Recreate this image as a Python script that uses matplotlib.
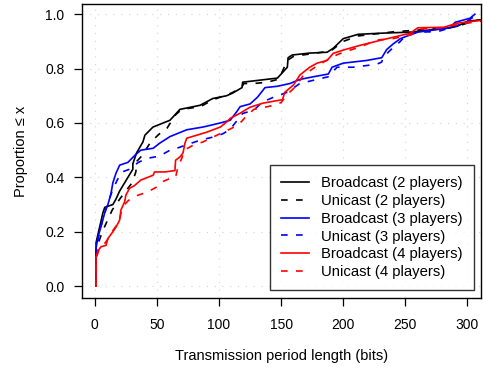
import matplotlib
matplotlib.use("Agg")
import matplotlib.pyplot as plt

plt.rcParams["font.family"] = ["Liberation Sans", "DejaVu Sans"]

# Broadcast / unicast, 2 players
bc2_x = [1, 1, 2.5, 4, 6.5, 8, 14.5, 17, 20, 24, 26.6, 30.6, 30.6, 33.6, 38.7, 40.3, 46.8, 60.5, 68.5, 84.7,
         95, 106, 111, 118.5, 119, 147, 149, 155, 155.6, 159, 173, 187, 192, 200, 212, 230, 254, 286, 292,
         300, 312]
bc2_y = [0, 0.16, 0.19, 0.22, 0.27, 0.29, 0.30, 0.32, 0.35, 0.38, 0.40, 0.43, 0.45, 0.49, 0.53, 0.555, 0.585,
         0.61, 0.65, 0.665, 0.69, 0.70, 0.71, 0.73, 0.75, 0.765, 0.775, 0.805, 0.84, 0.85, 0.857, 0.86, 0.875,
         0.91, 0.926, 0.93, 0.934, 0.95, 0.956, 0.974, 0.98]
uc2_x = [1, 1, 3, 6, 10, 14, 20, 25, 30, 33, 34, 38, 45, 52, 58, 65, 70, 85, 95, 110, 118, 120, 130, 139,
         147, 150, 155, 160, 175, 190, 200, 212, 240, 285, 295, 305, 312]
uc2_y = [0, 0.12, 0.16, 0.20, 0.24, 0.28, 0.32, 0.35, 0.38, 0.42, 0.46, 0.48, 0.53, 0.56, 0.58, 0.63, 0.65,
         0.66, 0.685, 0.71, 0.73, 0.745, 0.746, 0.75, 0.76, 0.78, 0.83, 0.845, 0.855, 0.865, 0.90, 0.92, 0.935,
         0.95, 0.96, 0.975, 0.98]

# 3 players
bc3_x = [1, 1, 2.5, 5, 8, 10.5, 13, 14.5, 17, 20, 26.6, 32, 37, 47, 52, 60.5, 74, 87, 101, 109, 114, 117,
         125, 131, 137, 147, 157, 165, 176, 188, 191, 200, 219, 231, 235, 240, 246, 251.6, 260, 286, 290,
         302, 306]
bc3_y = [0, 0.14, 0.18, 0.22, 0.27, 0.30, 0.34, 0.38, 0.415, 0.445, 0.455, 0.48, 0.50, 0.507, 0.525, 0.55,
         0.575, 0.585, 0.60, 0.61, 0.64, 0.66, 0.67, 0.695, 0.73, 0.735, 0.745, 0.76, 0.77, 0.78, 0.805, 0.82,
         0.83, 0.84, 0.87, 0.89, 0.91, 0.92, 0.934, 0.95, 0.97, 0.985, 1.0]
uc3_x = [1, 1, 3, 6, 10, 14, 18, 22, 28, 35, 42, 52, 60.5, 66, 74, 85, 95, 103, 109, 119, 128, 135, 144,
         155, 165, 176, 188, 195, 208, 227, 231, 232, 238, 246, 251, 262, 276, 290, 300, 305]
uc3_y = [0, 0.12, 0.18, 0.24, 0.30, 0.35, 0.39, 0.42, 0.43, 0.455, 0.47, 0.478, 0.50, 0.507, 0.52, 0.537,
         0.548, 0.56, 0.577, 0.635, 0.647, 0.677, 0.695, 0.713, 0.745, 0.757, 0.77, 0.805, 0.805, 0.816,
         0.824, 0.84, 0.868, 0.90, 0.926, 0.934, 0.936, 0.955, 0.975, 0.99]

# 4 players
bc4_x = [1, 1, 2.5, 5, 9, 10.5, 14.5, 17, 20, 21, 24, 25, 28, 32, 37, 47, 48, 56.5, 64.5, 65, 68.5, 71, 72.5,
         74, 82, 90, 101, 106, 109, 117, 125, 135.5, 149, 151, 153, 160, 165, 173, 179, 187, 192, 200, 214,
         230, 240, 254, 260, 281, 292, 312]
bc4_y = [0, 0.107, 0.13, 0.145, 0.15, 0.175, 0.20, 0.217, 0.243, 0.28, 0.31, 0.335, 0.36, 0.37, 0.39, 0.408,
         0.42, 0.42, 0.425, 0.463, 0.475, 0.49, 0.525, 0.544, 0.555, 0.566, 0.585, 0.603, 0.617, 0.636, 0.658,
         0.673, 0.684, 0.685, 0.713, 0.74, 0.776, 0.805, 0.82, 0.83, 0.856, 0.868, 0.886, 0.904, 0.915, 0.93,
         0.95, 0.952, 0.967, 0.978]
uc4_x = [1, 1, 3, 6, 10, 13, 17, 20, 21, 24, 27, 31, 35, 42, 50, 55, 60, 65, 67, 70, 72, 79, 87, 95, 103,
         110, 117, 122, 128, 139, 144, 150, 155, 162, 168, 179, 192, 200, 214, 227, 240, 255, 262, 280, 292, 312]
uc4_y = [0, 0.10, 0.13, 0.145, 0.17, 0.195, 0.22, 0.24, 0.27, 0.30, 0.315, 0.325, 0.335, 0.345, 0.365, 0.385,
         0.395, 0.40, 0.44, 0.47, 0.50, 0.518, 0.53, 0.548, 0.565, 0.58, 0.60, 0.625, 0.65, 0.66, 0.665, 0.675,
         0.705, 0.735, 0.776, 0.81, 0.845, 0.86, 0.88, 0.905, 0.91, 0.925, 0.945, 0.95, 0.962, 0.975]

labels = ["Broadcast (2 players)", "Unicast (2 players)", "Broadcast (3 players)",
          "Unicast (3 players)", "Broadcast (4 players)", "Unicast (4 players)"]

fig = plt.figure(figsize=(4.84, 3.75), dpi=100)
ax = fig.add_axes([0.169, 0.205, 0.825, 0.784])

ax.grid(True, color="lightgray", linestyle=(0, (1, 6)), linewidth=0.8)
ax.set_axisbelow(True)

dash = (0, (4, 5))
ax.plot(bc2_x, bc2_y, color="black", lw=1.2, label=labels[0])
ax.plot(uc2_x, uc2_y, color="black", lw=1.2, linestyle=dash, label=labels[1])
ax.plot(bc3_x, bc3_y, color="blue", lw=1.2, label=labels[2])
ax.plot(uc3_x, uc3_y, color="blue", lw=1.2, linestyle=dash, label=labels[3])
ax.plot(bc4_x, bc4_y, color="red", lw=1.2, label=labels[4])
ax.plot(uc4_x, uc4_y, color="red", lw=1.2, linestyle=dash, label=labels[5])

ax.set_xlim(-10.5, 311)
ax.set_ylim(-0.044, 1.037)
ax.set_xticks([0, 50, 100, 150, 200, 250, 300])
ax.set_yticks([0.0, 0.2, 0.4, 0.6, 0.8, 1.0])
ax.set_yticklabels(["0.0", "0.2", "0.4", "0.6", "0.8", "1.0"])
ax.tick_params(direction="out", length=5.5, width=0.9, labelsize=10, pad=7)
ax.tick_params(axis="x", pad=9)
for s in ax.spines.values():
    s.set_linewidth(1.0)

ax.set_xlabel("Transmission period length (bits)", fontsize=10.5, labelpad=12)
ax.set_ylabel("Proportion \u2264 x", fontsize=10.5, labelpad=12)

leg = ax.legend(loc="lower right", bbox_to_anchor=(0.982, 0.027), fontsize=10.7, frameon=True,
                fancybox=False, edgecolor="black", handlelength=1.9, borderpad=0.75,
                labelspacing=0.25, handletextpad=0.8, borderaxespad=0)
leg.get_frame().set_linewidth(1.0)

fig.savefig("out.png", dpi=100)
